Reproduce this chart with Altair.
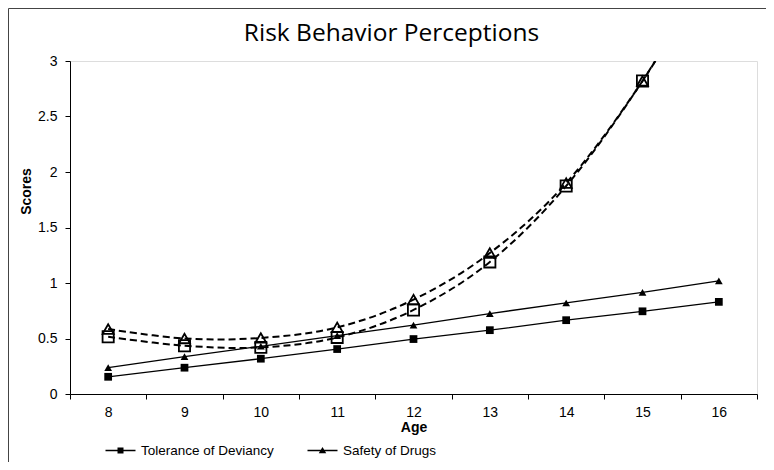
import altair as alt
import pandas as pd

# ---- data ----
ages = [8, 9, 10, 11, 12, 13, 14, 15, 16]
series_names = ["Tolerance of Deviancy", "Safety of Drugs"]
tol_solid = [0.155, 0.237, 0.318, 0.405, 0.495, 0.575, 0.665, 0.745, 0.83]
safe_solid = [0.237, 0.336, 0.43, 0.525, 0.62, 0.725, 0.82, 0.916, 1.02]
tol_dashed = [0.516, 0.435, 0.42, 0.51, 0.757, 1.19, 1.874, 2.82, 3.97]
safe_dashed = [0.585, 0.50, 0.505, 0.60, 0.85, 1.27, 1.90, 2.82, 3.95]
x_tick_values = [7.5 + 0.5 * i for i in range(19)]
y_tick_values = [0, 0.5, 1, 1.5, 2, 2.5, 3]

rows = []
for name, kind, vals in [
    (series_names[0], "solid", tol_solid),
    (series_names[1], "solid", safe_solid),
    (series_names[0], "dashed", tol_dashed),
    (series_names[1], "dashed", safe_dashed),
]:
    for a, v in zip(ages, vals):
        rows.append({"age": a, "value": v, "series": name, "kind": kind})
df = pd.DataFrame(rows)

LABEL_FONT = "Liberation Sans"
W, H = 687, 333

xaxis = alt.Axis(
    values=x_tick_values,
    labelExpr="datum.value % 1 === 0 ? format(datum.value, 'd') : ''",
    tickOpacity={"condition": {"test": "datum.value % 1 === 0", "value": 0}, "value": 1},
    tickSize=5, tickColor="black", domainColor="black",
    labelFont=LABEL_FONT, labelFontSize=14, labelColor="black",
    labelPadding=6, labelOverlap=False, labelFlush=False,
    title="Age", titleFont=LABEL_FONT, titleFontSize=14, titleFontWeight="bold",
    titleColor="black", titleY=37, titleBaseline="alphabetic", grid=False,
)
yaxis = alt.Axis(
    values=y_tick_values, format=".1~f",
    tickSize=5, tickColor="black", domainColor="black",
    labelFont=LABEL_FONT, labelFontSize=14, labelColor="black", labelPadding=8,
    title="Scores", titleFont=LABEL_FONT, titleFontSize=14, titleFontWeight="bold",
    titleColor="black", titleX=-44, titleY=130, titleAngle=270,
    titleAlign="center", titleBaseline="middle", grid=False,
)

base = alt.Chart(df).encode(
    x=alt.X("age:Q", scale=alt.Scale(domain=[7.5, 16.5], nice=False, zero=False), axis=xaxis),
    y=alt.Y("value:Q", scale=alt.Scale(domain=[0, 3], nice=False), axis=yaxis),
)

solid = base.transform_filter("datum.kind === 'solid'")
dashed = base.transform_filter("datum.kind === 'dashed'")

solid_lines = solid.mark_line(color="black", strokeWidth=1.3).encode(detail="series:N")
solid_sq = solid.transform_filter(f"datum.series === '{series_names[0]}'").mark_point(
    shape="square", filled=True, color="black", size=60, opacity=1)
solid_tri = solid.transform_filter(f"datum.series === '{series_names[1]}'").mark_point(
    shape="triangle-up", filled=True, color="black", size=60, opacity=1)

dashed_lines = dashed.mark_line(
    color="black", strokeWidth=2, strokeDash=[7, 4], interpolate="cardinal", clip=True
).encode(detail="series:N")
open_sq = dashed.transform_filter(f"datum.series === '{series_names[0]}'").mark_point(
    shape="square", filled=False, color="black", strokeWidth=1.8, size=125, opacity=1, clip=True)
open_tri = dashed.transform_filter(f"datum.series === '{series_names[1]}'").mark_point(
    shape="triangle-up", filled=False, color="black", strokeWidth=1.8, size=120, opacity=1, clip=True)

# legend symbols: thin filled bar (the line) plus a marker, drawn as filled paths
sym_sq = "M-1,-0.045L1,-0.045L1,0.045L-1,0.045ZM-0.2,-0.2L0.2,-0.2L0.2,0.2L-0.2,0.2Z"
sym_tri = "M-1,-0.045L1,-0.045L1,0.045L-1,0.045ZM0,-0.24L0.25,0.18L-0.25,0.18Z"
legend_layer = base.transform_filter("datum.kind === 'none'").mark_point(
    filled=True, fill="black", stroke="black", strokeWidth=0.5
).encode(
    shape=alt.Shape(
        "series:N",
        scale=alt.Scale(domain=series_names, range=[sym_sq, sym_tri]),
        legend=alt.Legend(
            title=None, orient="none", legendX=35, legendY=374, direction="horizontal",
            symbolSize=900, symbolOpacity=1, symbolFillColor="black",
            symbolStrokeColor="black", symbolStrokeWidth=0.5,
            labelFont=LABEL_FONT, labelFontSize=13.5, labelColor="black",
            labelOffset=5, columnPadding=32, padding=0,
        ),
    )
)

# decorative outer frame (left and top edges of the picture)
frame_df = pd.DataFrame({"k": [0]})
frame_left = alt.Chart(frame_df).mark_rule(color="#444", strokeWidth=1).encode(
    x=alt.value(-61.5), y=alt.value(-52.5), y2=alt.value(H + 68))
frame_top = alt.Chart(frame_df).mark_rule(color="#444", strokeWidth=1).encode(
    x=alt.value(-61.5), x2=alt.value(W + 9), y=alt.value(-52.5))

chart = alt.layer(
    solid_lines, dashed_lines, open_sq, open_tri, solid_sq, solid_tri, legend_layer,
    frame_left, frame_top,
).properties(
    width=W, height=H,
    title=alt.TitleParams(
        "Risk Behavior Perceptions", font="Open Sans", fontSize=24.5, fontWeight="normal",
        color="black", anchor="middle", baseline="alphabetic", offset=-57, frame="group",
        dx=-22,
    ),
    autosize=alt.AutoSizeParams(type="none"),
    padding={"left": 62, "top": 53, "right": 9, "bottom": 68},
).configure_view(stroke="black", strokeWidth=1.3).configure(background="white")

chart.save("out.html", embed_options={"renderer": "svg", "actions": False})
